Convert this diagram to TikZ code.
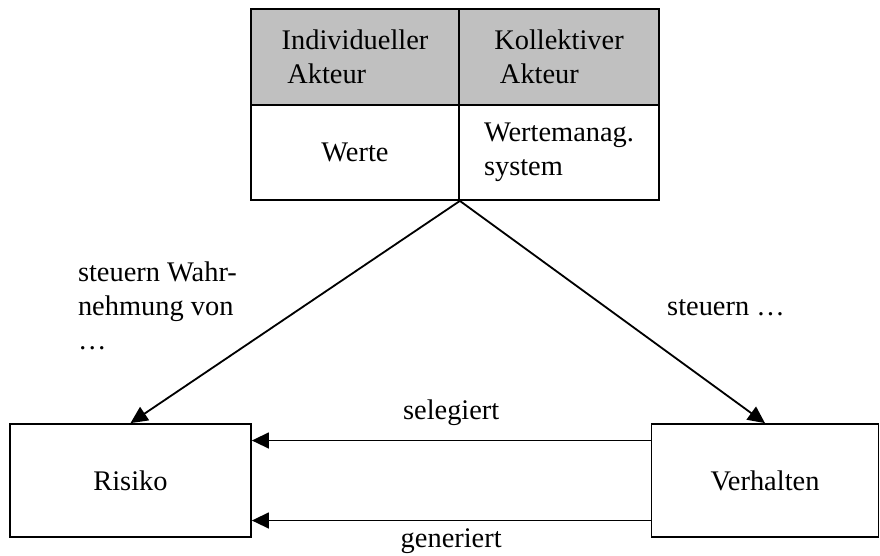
\documentclass[tikz,border=0pt]{standalone}
\usepackage{fontspec}
\setmainfont{Liberation Serif}
\usetikzlibrary{arrows.meta,positioning,calc}
\definecolor{cellgray}{HTML}{C0C0C0}

\begin{document}
\begin{tikzpicture}[x=0.44pt,y=-0.44pt,
  font=\fontsize{12.5}{14.8}\selectfont,
  cell/.style={rectangle,draw,line width=0.8pt,align=left,inner sep=0pt},
  head/.style={cell,fill=cellgray,minimum height=42.2pt},
  body/.style={cell,minimum height=41.8pt},
  box/.style={rectangle,draw,line width=0.8pt,minimum height=49.7pt},
  arr/.style={-{Triangle[length=7.5pt,width=7pt]},line width=0.8pt},
  lbl/.style={align=left}
]
  \useasboundingbox (0,0) rectangle (880,556);

  % ---- Table: actors and values -----------------------------
  \node[head,minimum width=91.5pt] (indiv) at (355,57)
    {Individueller\\\hspace{2.5pt}Akteur};
  \node[head,minimum width=88pt] (kollektiv) at (559,57)
    {Kollektiver\\\hspace{2.5pt}Akteur};
  \node[body,minimum width=91.5pt] (werte) at (355,152.5) {Werte};
  \node[body,minimum width=88pt] (wmsystem) at (559,152.5)
    {Wertemanag.\\system};

  % ---- Bottom boxes -----------------------------------------
  \node[box,minimum width=106pt] (risiko) at (130.5,480.5) {Risiko};
  \node[box,minimum width=99.9pt] (verhalten) at (765,480.5) {Verhalten};

  % ---- Arrows -----------------------------------------------
  \draw[arr] (werte.south east) -- (risiko.north);
  \draw[arr] (werte.south east) -- (verhalten.north);

  \draw[arr] ($(verhalten.west)+(0,-40)$) --
    node[above=3pt] (selegiert) {selegiert} ($(risiko.east)+(0,-40)$);
  \draw[arr] ($(verhalten.west)+(0,40)$) --
    node[below=0pt] (generiert) {generiert} ($(risiko.east)+(0,40)$);

  % ---- Labels -----------------------------------------------
  \node[lbl,anchor=north west] (wahrnehmung) at (70,254)
    {steuern Wahr-\\nehmung von\\\ldots};
  \node (steuern) at (726,308) {steuern \ldots};

\end{tikzpicture}
\end{document}
